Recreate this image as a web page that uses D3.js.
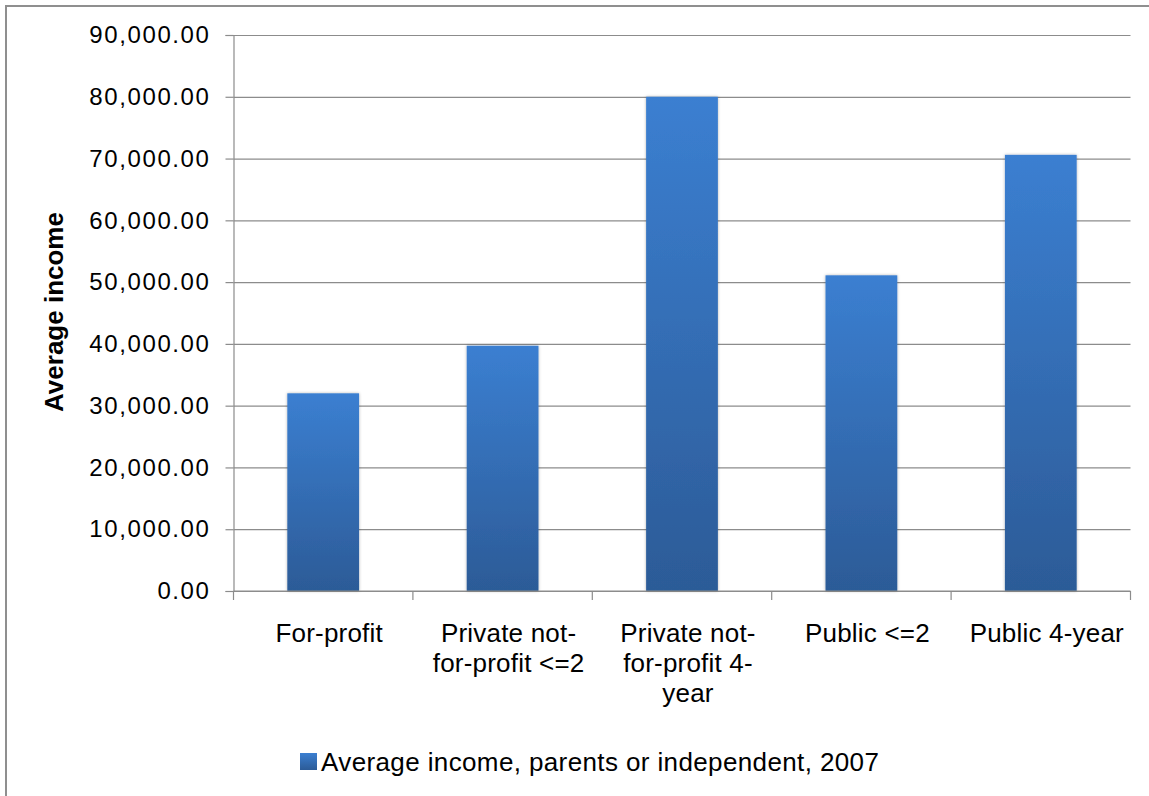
<!DOCTYPE html>
<html>
<head>
<meta charset="utf-8">
<script src="https://cdn.jsdelivr.net/npm/d3@7/dist/d3.min.js"></script>
<style>
  html, body { margin: 0; padding: 0; background: #ffffff; }
  svg { display: block; }
  text { font-family: "Liberation Sans", Arial, sans-serif; fill: #000; }
</style>
</head>
<body>
<svg id="chart" width="1149" height="796"></svg>
<script>
// Average income by institution type, 2007
const categories = [
  ["For-profit"],
  ["Private not-", "for-profit <=2"],
  ["Private not-", "for-profit 4-", "year"],
  ["Public <=2"],
  ["Public 4-year"]
];
const categoryKeys = ["For-profit", "Private not-for-profit <=2", "Private not-for-profit 4-year", "Public <=2", "Public 4-year"];
const incomeValues = [32000, 39700, 80000, 51100, 70600];
const yTicks = [0, 10000, 20000, 30000, 40000, 50000, 60000, 70000, 80000, 90000];
const seriesName = "Average income, parents or independent, 2007";
const yTitle = "Average income";

const svg = d3.select("#chart");

// outer chart frame
svg.append("rect")
  .attr("x", 6).attr("y", 6)
  .attr("width", 1160).attr("height", 820)
  .attr("fill", "none")
  .attr("stroke", "#8f8f8f")
  .attr("stroke-width", 2);

const plot = { left: 233.5, right: 1130.5, top: 35, bottom: 591 };

const y = d3.scaleLinear().domain([0, 90000]).range([plot.bottom, plot.top]);
const x = d3.scaleBand().domain(categoryKeys)
  .range([plot.left, plot.right])
  .paddingInner(0.6).paddingOuter(0.3);
const xEdges = d3.scaleBand().domain(categoryKeys)
  .range([plot.left, plot.right]).padding(0);

const defs = svg.append("defs");
const grad = defs.append("linearGradient")
  .attr("id", "barFill").attr("x1", 0).attr("y1", 0).attr("x2", 0).attr("y2", 1);
grad.append("stop").attr("offset", "0%").attr("stop-color", "#3b7fd1");
grad.append("stop").attr("offset", "100%").attr("stop-color", "#2c5b97");

const shadow = defs.append("filter").attr("id", "barShadow")
  .attr("x", "-20%").attr("y", "-5%").attr("width", "140%").attr("height", "110%");
shadow.append("feDropShadow")
  .attr("dx", 0).attr("dy", 0).attr("stdDeviation", 1.6)
  .attr("flood-color", "#000").attr("flood-opacity", 0.3);

const legendGrad = defs.append("linearGradient")
  .attr("id", "legendFill").attr("x1", 0).attr("y1", 0).attr("x2", 0).attr("y2", 1);
legendGrad.append("stop").attr("offset", "0%").attr("stop-color", "#3b7fd1");
legendGrad.append("stop").attr("offset", "100%").attr("stop-color", "#2c5b97");

// horizontal gridlines
svg.append("g")
  .attr("transform", `translate(${plot.left},0)`)
  .call(d3.axisLeft(y).tickValues(yTicks).tickSize(-(plot.right - plot.left)).tickFormat(""))
  .call(g => g.select(".domain").remove())
  .call(g => g.selectAll("line").attr("stroke", "#8c8c8c").attr("stroke-width", 1.2));

// y axis with ticks and labels
svg.append("g")
  .attr("transform", `translate(${plot.left},0)`)
  .call(d3.axisLeft(y).tickValues(yTicks).tickSize(8).tickPadding(15).tickFormat(d3.format(",.2f")))
  .call(g => g.select(".domain").attr("stroke", "#8c8c8c").attr("stroke-width", 1.2))
  .call(g => g.selectAll("line").attr("stroke", "#8c8c8c").attr("stroke-width", 1.2))
  .call(g => g.selectAll("text")
    .attr("font-size", 24)
    .attr("letter-spacing", 1.6)
    .attr("font-family", "Liberation Sans, Arial, sans-serif")
    .attr("fill", "#000"));

// bars
svg.append("g")
  .selectAll("rect")
  .data(incomeValues)
  .join("rect")
  .attr("x", (d, i) => x(categoryKeys[i]))
  .attr("y", d => y(d))
  .attr("width", x.bandwidth())
  .attr("height", d => y(0) - y(d))
  .attr("fill", "url(#barFill)")
  .attr("filter", "url(#barShadow)");

// x axis line and category boundary ticks
const xAxis = svg.append("g");
xAxis.append("line")
  .attr("x1", plot.left).attr("x2", plot.right)
  .attr("y1", plot.bottom).attr("y2", plot.bottom)
  .attr("stroke", "#8c8c8c").attr("stroke-width", 1.2);
const edges = categoryKeys.map(c => xEdges(c)).concat([plot.right]);
xAxis.selectAll("line.tick")
  .data(edges)
  .join("line")
  .attr("class", "tick")
  .attr("x1", d => d).attr("x2", d => d)
  .attr("y1", plot.bottom).attr("y2", plot.bottom + 9)
  .attr("stroke", "#8c8c8c").attr("stroke-width", 1.2);

// category labels (wrapped)
const labels = svg.append("g").selectAll("text")
  .data(categories)
  .join("text")
  .attr("text-anchor", "middle")
  .attr("font-size", 26)
  .attr("letter-spacing", 0.2)
  .attr("transform", (d, i) => `translate(${xEdges(categoryKeys[i]) + xEdges.bandwidth() / 2 + 6},642)`);
labels.selectAll("tspan")
  .data(d => d)
  .join("tspan")
  .attr("x", 0)
  .attr("y", (d, j) => j * 30)
  .text(d => d);

// y axis title
svg.append("text")
  .attr("transform", "translate(63,312) rotate(-90)")
  .attr("text-anchor", "middle")
  .attr("font-size", 26)
  .attr("font-weight", "bold")
  .text(yTitle);

// legend
const legend = svg.append("g");
legend.append("rect")
  .attr("x", 300).attr("y", 753)
  .attr("width", 17).attr("height", 17)
  .attr("fill", "url(#legendFill)");
legend.append("text")
  .attr("x", 321).attr("y", 771)
  .attr("font-size", 26)
  .attr("letter-spacing", 0.38)
  .text(seriesName);
</script>
</body>
</html>
